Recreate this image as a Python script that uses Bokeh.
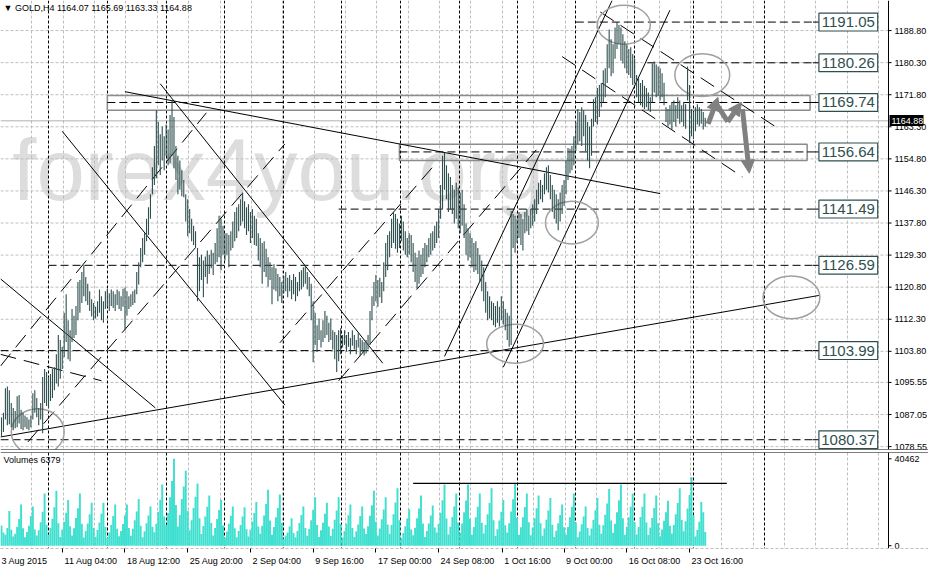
from bokeh.plotting import figure
from bokeh.models import (Range1d, FixedTicker, NumeralTickFormatter, Label, LinearAxis,
                          ColumnDataSource, Span, Arrow, NormalHead)
from bokeh.layouts import column
from bokeh.embed import file_html
from bokeh.resources import INLINE
from bokeh.core.properties import value

# ---------------- data ----------------
symbol = "GOLD,H4"
title_ohlc = [1164.07, 1165.69, 1163.33, 1164.88]
current_price = 1164.88
volume_caption = "Volumes 6379"
watermark = "forex4you.org"

highs = [
    1086.3, 1087.5, 1094.0, 1094.5, 1093.5, 1090.1, 1088.8, 1088.0, 1091.9, 1092.2,
    1088.3, 1087.5, 1086.8, 1086.3, 1085.7, 1086.8, 1092.7, 1093.5, 1091.4, 1088.8,
    1090.1, 1097.0, 1099.1, 1098.3, 1097.0, 1097.8, 1099.1, 1099.6, 1103.0, 1108.1,
    1106.8, 1105.0, 1114.0, 1118.9, 1112.0, 1109.4, 1115.0, 1113.2, 1115.8, 1122.2,
    1122.7, 1124.8, 1126.6, 1123.5, 1121.7, 1119.7, 1117.6, 1116.6, 1115.6, 1117.1,
    1120.2, 1118.4, 1117.1, 1119.7, 1120.4, 1119.2, 1120.2, 1119.7, 1118.9, 1120.2,
    1119.7, 1118.4, 1120.4, 1120.7, 1119.7, 1118.4, 1118.9, 1119.7, 1120.2, 1124.8,
    1127.4, 1131.2, 1133.8, 1135.1, 1138.9, 1142.0, 1145.4, 1152.6, 1158.2, 1167.7,
    1164.6, 1161.3, 1163.4, 1160.8, 1163.9, 1162.6, 1166.4, 1170.3, 1165.9, 1158.2,
    1155.6, 1154.4, 1151.8, 1149.2, 1145.4, 1144.1, 1141.5, 1138.9, 1137.1, 1135.6,
    1131.2, 1128.7, 1129.4, 1127.9, 1128.9, 1130.5, 1129.4, 1130.7, 1129.9, 1132.5,
    1136.4, 1139.7, 1138.9, 1137.1, 1135.1, 1135.1, 1134.6, 1135.6, 1138.2, 1140.7,
    1142.0, 1142.8, 1144.1, 1145.9, 1143.6, 1142.0, 1142.8, 1140.7, 1141.5, 1139.7,
    1138.9, 1135.1, 1133.8, 1132.5, 1133.0, 1131.0, 1128.7, 1127.4, 1126.1, 1126.9,
    1125.8, 1124.3, 1123.5, 1122.2, 1123.8, 1124.8, 1123.3, 1124.0, 1122.7, 1124.3,
    1123.5, 1122.2, 1124.8, 1125.3, 1126.1, 1126.6, 1124.8, 1123.5, 1121.7, 1117.1,
    1114.0, 1110.7, 1112.5, 1109.4, 1112.0, 1114.5, 1113.2, 1111.4, 1112.5, 1109.4,
    1108.9, 1108.1, 1109.4, 1109.9, 1108.1, 1109.4, 1108.1, 1108.9, 1107.3, 1109.4,
    1108.1, 1106.8, 1108.6, 1107.3, 1106.8, 1106.3, 1106.8, 1108.1, 1114.5, 1118.4,
    1122.2, 1124.0, 1122.7, 1123.3, 1122.2, 1127.4, 1132.5, 1134.6, 1135.6, 1138.9,
    1140.7, 1140.2, 1138.9, 1137.7, 1139.7, 1138.2, 1135.6, 1133.8, 1135.1, 1134.6,
    1132.5, 1129.9, 1128.7, 1130.5, 1129.4, 1131.2, 1132.5, 1132.0, 1133.8, 1135.1,
    1135.6, 1137.1, 1138.2, 1141.5, 1147.9, 1155.6, 1156.4, 1153.1, 1151.0, 1150.0,
    1147.9, 1146.6, 1148.5, 1147.2, 1145.9, 1146.6, 1142.8, 1137.7, 1136.4, 1135.1,
    1133.8, 1132.5, 1133.0, 1131.2, 1129.4, 1127.9, 1126.1, 1122.2, 1119.7, 1118.4,
    1117.1, 1116.6, 1115.8, 1117.1, 1115.6, 1118.4, 1117.1, 1115.0, 1114.0, 1113.2,
    1141.0, 1140.2, 1139.7, 1138.9, 1140.7, 1140.2, 1138.9, 1140.7, 1141.5, 1139.7,
    1141.5, 1142.8, 1144.1, 1146.6, 1148.5, 1149.2, 1147.9, 1151.0, 1152.6, 1153.1,
    1150.5, 1147.9, 1146.6, 1145.4, 1144.1, 1145.9, 1147.9, 1149.2, 1154.4, 1157.7,
    1157.5, 1158.2, 1160.8, 1164.6, 1168.0, 1167.2, 1168.5, 1167.7, 1166.4, 1164.6,
    1163.4, 1165.4, 1170.6, 1171.1, 1173.6, 1174.4, 1174.9, 1178.3, 1178.8, 1185.2,
    1189.1, 1186.5, 1185.2, 1189.6, 1191.1, 1190.3, 1189.6, 1187.8, 1186.0, 1185.2,
    1183.9, 1184.4, 1182.6, 1181.3, 1177.0, 1176.2, 1174.9, 1175.7, 1174.2, 1173.6,
    1172.4, 1171.1, 1180.1, 1180.6, 1179.8, 1179.3, 1178.8, 1177.5, 1175.0, 1168.5,
    1168.0, 1169.0, 1169.8, 1170.3, 1169.0, 1171.1, 1170.3, 1169.0, 1169.8, 1169.3,
    1179.3, 1174.4, 1168.0, 1167.2, 1168.5, 1169.3, 1168.5, 1168.0, 1167.2, 1165.69,
]

lows = [
    1081.1, 1082.4, 1085.7, 1084.2, 1084.5, 1083.7, 1082.9, 1083.4, 1083.7, 1084.7,
    1083.2, 1082.9, 1083.7, 1083.2, 1082.9, 1083.7, 1085.7, 1087.5, 1086.3, 1084.2,
    1085.7, 1082.1, 1090.1, 1089.3, 1088.8, 1090.6, 1091.4, 1093.5, 1095.3, 1094.5,
    1096.5, 1099.1, 1102.2, 1106.3, 1101.7, 1101.2, 1106.3, 1107.3, 1108.1, 1112.0,
    1114.0, 1116.6, 1118.4, 1117.1, 1116.1, 1114.5, 1113.0, 1112.0, 1112.5, 1113.0,
    1114.0, 1112.0, 1111.4, 1115.0, 1115.6, 1114.5, 1115.8, 1115.3, 1114.5, 1116.1,
    1115.0, 1114.5, 1115.6, 1109.4, 1113.2, 1115.0, 1115.6, 1116.1, 1116.6, 1118.9,
    1121.5, 1126.1, 1127.4, 1129.4, 1133.0, 1134.6, 1138.9, 1145.4, 1147.9, 1149.7,
    1153.1, 1150.5, 1154.4, 1151.8, 1155.6, 1153.1, 1153.6, 1155.6, 1152.3, 1149.2,
    1145.4, 1146.6, 1144.9, 1144.6, 1138.2, 1134.3, 1135.1, 1133.0, 1132.0, 1131.2,
    1117.1, 1119.7, 1122.7, 1118.1, 1123.5, 1121.7, 1124.3, 1125.8, 1124.0, 1126.9,
    1127.4, 1128.7, 1125.3, 1129.4, 1127.9, 1129.4, 1126.1, 1130.5, 1131.2, 1133.0,
    1133.8, 1135.6, 1137.1, 1138.2, 1136.4, 1134.6, 1135.6, 1132.5, 1133.8, 1132.0,
    1131.7, 1127.9, 1126.1, 1121.7, 1124.8, 1123.5, 1120.9, 1122.7, 1116.3, 1120.2,
    1119.7, 1117.1, 1118.4, 1116.6, 1119.2, 1119.7, 1118.1, 1119.7, 1117.6, 1118.9,
    1117.1, 1118.4, 1119.7, 1120.2, 1120.9, 1121.7, 1120.2, 1118.4, 1112.0, 1100.9,
    1105.5, 1103.7, 1106.8, 1104.8, 1106.3, 1107.3, 1108.1, 1106.3, 1106.8, 1104.3,
    1101.7, 1098.3, 1101.2, 1103.0, 1104.8, 1105.5, 1103.7, 1105.0, 1103.0, 1105.3,
    1104.3, 1103.0, 1104.8, 1102.5, 1103.7, 1102.7, 1103.2, 1104.3, 1105.5, 1112.0,
    1115.8, 1117.1, 1115.6, 1118.1, 1116.6, 1119.7, 1123.5, 1125.3, 1128.7, 1131.2,
    1132.5, 1131.0, 1129.9, 1131.2, 1133.0, 1130.5, 1129.4, 1128.7, 1129.4, 1127.4,
    1124.8, 1122.2, 1120.4, 1121.7, 1123.5, 1124.3, 1126.1, 1127.4, 1128.7, 1129.4,
    1130.5, 1131.2, 1132.5, 1133.8, 1138.9, 1141.5, 1146.6, 1144.1, 1140.7, 1141.5,
    1140.2, 1137.7, 1138.9, 1136.4, 1135.1, 1137.1, 1133.8, 1129.4, 1127.9, 1128.7,
    1126.1, 1124.8, 1125.3, 1124.3, 1122.2, 1119.7, 1117.1, 1114.0, 1112.0, 1112.5,
    1112.0, 1110.7, 1110.2, 1111.4, 1110.4, 1112.0, 1110.9, 1109.4, 1106.8, 1105.0,
    1105.5, 1131.2, 1129.9, 1132.5, 1133.8, 1132.0, 1130.5, 1135.1, 1135.6, 1134.6,
    1136.4, 1137.1, 1138.2, 1140.2, 1142.8, 1144.1, 1143.3, 1145.4, 1146.6, 1145.9,
    1144.1, 1140.7, 1138.9, 1137.7, 1135.9, 1138.2, 1140.2, 1142.3, 1145.4, 1149.2,
    1151.0, 1151.8, 1153.1, 1156.9, 1158.7, 1159.5, 1158.2, 1160.8, 1156.9, 1154.4,
    1152.3, 1155.6, 1163.4, 1164.6, 1163.9, 1165.9, 1168.5, 1169.8, 1171.1, 1174.9,
    1178.8, 1176.7, 1177.5, 1181.3, 1183.9, 1185.2, 1180.8, 1180.1, 1178.8, 1177.5,
    1177.0, 1176.2, 1174.4, 1174.9, 1171.1, 1169.8, 1169.0, 1168.5, 1168.0, 1168.5,
    1167.7, 1167.2, 1169.8, 1172.4, 1171.1, 1171.6, 1170.3, 1171.1, 1169.0, 1164.6,
    1163.4, 1163.9, 1162.6, 1164.6, 1163.4, 1165.4, 1164.1, 1164.6, 1163.4, 1162.8,
    1170.3, 1159.0, 1160.8, 1160.0, 1162.1, 1163.9, 1163.4, 1164.1, 1162.6, 1163.33,
]

volumes = [
    9400, 6200, 5100, 8300, 16200, 7400,
    4300, 5600, 8800, 12400, 19200, 8100,
    3900, 6400, 9300, 13800, 18300, 7600,
    4700, 7200, 10900, 15800, 24300, 9800,
    5200, 8400, 12600, 17900, 25600, 10400,
    4100, 7600, 11200, 15300, 21300, 9100,
    4800, 8100, 12900, 17400, 24300, 10200,
    3800, 6900, 10300, 14600, 20000, 8300,
    4200, 7300, 10800, 14900, 20000, 8700,
    3600, 6100, 9700, 13800, 19200, 7900,
    4400, 6800, 10100, 14200, 19200, 8200,
    4600, 7900, 11800, 15900, 21700, 9300,
    3900, 6700, 10400, 14100, 18300, 8800,
    6300, 10200, 15800, 21400, 28500, 13600,
    9800, 15200, 22600, 30100, 40462, 18900,
    8900, 14300, 21800, 27600, 34900, 16200,
    7200, 11900, 17600, 22800, 29000, 12800,
    5400, 9200, 13600, 18100, 23400, 10600,
    4800, 8300, 12400, 16600, 21300, 9400,
    3700, 6600, 10200, 13900, 18300, 8100,
    3900, 6800, 9600, 13600, 17900, 7700,
    4300, 7400, 11300, 15200, 20400, 9000,
    5600, 9300, 14100, 19400, 26000, 11700,
    5100, 8700, 13300, 17600, 23900, 10600,
    3200, 4800, 6100, 8900, 12800, 5900,
    3900, 6900, 10600, 14300, 18300, 8200,
    4600, 7800, 11900, 16700, 22600, 9700,
    4100, 7200, 10700, 14900, 20000, 8900,
    4500, 7900, 12100, 16400, 22600, 10100,
    3800, 6900, 10200, 14200, 19200, 8300,
    4000, 6700, 9900, 13800, 18300, 8000,
    5400, 9100, 13900, 18800, 25600, 11200,
    4700, 8000, 12300, 16900, 22600, 9900,
    5600, 9700, 14600, 20100, 26800, 11800,
    3500, 5900, 9100, 12700, 17000, 7600,
    4900, 8400, 12800, 17300, 23400, 10300,
    4100, 6900, 10300, 14100, 18700, 8500,
    6100, 10100, 15400, 21200, 28500, 12700,
    5200, 8800, 13400, 18200, 24300, 10800,
    6000, 10300, 15600, 21100, 28500, 12600,
    5100, 8700, 13200, 18100, 24300, 10700,
    5700, 9600, 14700, 19900, 26800, 11900,
    4500, 7700, 11700, 15800, 21300, 9500,
    6200, 10400, 15900, 21600, 29000, 12900,
    5100, 8600, 13300, 18000, 24300, 10900,
    4900, 8500, 12800, 17400, 23400, 10400,
    4600, 8000, 12100, 16400, 22200, 9800,
    4000, 7000, 10400, 14300, 19200, 8600,
    5100, 8700, 13300, 18100, 24300, 10800,
    3900, 6600, 10000, 13600, 18300, 8200,
    4700, 8000, 12000, 16500, 22200, 9800,
    5600, 9500, 14400, 19600, 26400, 11700,
    6000, 10200, 15600, 21200, 28500, 12800,
    5100, 8800, 13300, 18100, 24300, 10900,
    5200, 8700, 13400, 18100, 24300, 10800,
    5000, 8500, 12900, 17500, 23400, 10500,
    4400, 7600, 11600, 15600, 20900, 9300,
    5700, 9700, 14600, 19900, 26800, 12000,
    6700, 11400, 17300, 23600, 32000, 14200,
    4300, 7300, 11200, 20400, 15600, 6379,
]
volume_max_label = 40462
volume_line_level = 29000
volume_line_start = 210
volume_line_end = 370

price_ticks = [1188.80, 1180.30, 1171.80, 1163.30, 1154.80, 1146.30, 1137.80,
               1129.30, 1120.80, 1112.30, 1103.80, 1095.55, 1087.05, 1078.55]

time_tick_bars = [-1, 31, 63, 95, 127, 159, 191, 223, 255.5, 287, 319, 351]
time_labels = ["3 Aug 2015", "11 Aug 04:00", "18 Aug 12:00", "25 Aug 20:00",
               "2 Sep 04:00", "9 Sep 16:00", "17 Sep 00:00", "24 Sep 08:00",
               "1 Oct 16:00", "9 Oct 00:00", "16 Oct 08:00", "23 Oct 16:00"]
week_separators = [24, 54, 84, 114, 144, 173.5, 203.5, 233.5, 263, 293, 323, 353, 389]

level_prices = [1191.05, 1180.26, 1169.74, 1156.64, 1141.49, 1126.59, 1103.99, 1080.37]
level_start = [293, 329.5, 54, 203, 172, 24, -0.5, -0.5]
level_end = [414, 414, 412.5, 411, 414, 414, 414, 414]

zone_left = [54, 203]
zone_right = [412.5, 411]
zone_bottom = [1167.7, 1154.4]
zone_top = [1171.6, 1158.7]

solid_x0 = [-0.5, 63, 81, 31, -0.5, 226, 256]
solid_y0 = [1081.1, 1172.6, 1174.7, 1162.1, 1123.0, 1102.45, 1099.6]
solid_x1 = [417, 336, 194.5, 144.5, 78.5, 311.5, 341]
solid_y1 = [1118.6, 1145.6, 1100.65, 1089.6, 1088.8, 1196.77, 1194.2]

dashed_x0 = [-0.5, -0.5, 13.5, 142, 172, 305.5, 286]
dashed_y0 = [1103.0, 1099.9, 1079.8, 1106.05, 1096.0, 1193.7, 1181.9]
dashed_x1 = [51, 104.5, 144.5, 222, 274.5, 397, 378]
dashed_y1 = [1096.0, 1167.0, 1158.7, 1153.85, 1158.2, 1162.6, 1150.0]

ellipse_x = [18.5, 317.5, 357.5, 291, 262, 403]
ellipse_y = [1082.4, 1190.35, 1177.0, 1137.9, 1105.8, 1118.1]
ellipse_w = [27, 27, 28, 27, 29, 29]
ellipse_h = [12.3, 10.3, 11.3, 11.3, 10.3, 11.3]

arrow_x0 = [360.5, 370.5, 378.0]
arrow_y0 = [1164.1, 1164.65, 1168.0]
arrow_x1 = [365.5, 377.5, 381.5]
arrow_y1 = [1171.1, 1169.8, 1151.0]
path_x = [364.5, 370.5]
path_y = [1169.5, 1164.65]

# ---------------- layout / style constants ----------------
W = 928
RIGHT = 40
X_START, X_END = -0.5, 452.5
P_LOW, P_HIGH = 1077.78, 1196.77
V_LOW, V_TOP = -1300, 43400
BOX_L, BOX_R, BOX_H = 417, 447, 2.36
WM_X, WM_Y = 5.5, 1151.9
BAR_COLOR = "#2F4F4F"
GRID = "#BEBEBE"
FONT = "Liberation Sans"
SMALL = "9px"

bars = list(range(len(highs)))
grid_bars = [15.5 + 16 * k for k in range(28)]
px_per_bar = (W - RIGHT) / (X_END - X_START)
# both frames span the full width; the right strip holds the scales
X_END_FULL = X_END + RIGHT / px_per_bar
SCALE_AT = X_END + 38 / px_per_bar
TICK_END = X_END + 3 / px_per_bar

# approximate glyph widths (em) of Liberation Sans, to left-align time labels like MT4
CHAR_W = {" ": 0.278, ":": 0.278, "A": 0.667, "S": 0.667, "O": 0.778,
          "u": 0.556, "g": 0.556, "e": 0.556, "p": 0.556, "c": 0.5, "t": 0.278}


def text_width(s, size=9.0):
    return sum(CHAR_W.get(ch, 0.556) for ch in s) * size


label_centers = [round(t + (2 + text_width(s) / 2) / px_per_bar, 3)
                 for t, s in zip(time_tick_bars, time_labels)]


def scale_axis(ticks, fmt=None, loc=SCALE_AT, **kw):
    ax = LinearAxis(fixed_location=loc, ticker=FixedTicker(ticks=ticks),
                    axis_line_color=None, major_tick_out=0, major_tick_in=0,
                    minor_tick_out=0, minor_tick_in=0, major_label_standoff=-32,
                    major_label_text_font=FONT, major_label_text_font_size=SMALL,
                    major_label_text_color="black")
    if fmt is not None:
        ax.formatter = fmt
    for k, val in kw.items():
        setattr(ax, k, val)
    return ax


# ---------------- price panel ----------------
p = figure(width=W, height=451, x_range=Range1d(X_START, X_END_FULL),
           y_range=Range1d(P_LOW, P_HIGH), x_axis_location=None,
           y_axis_location=None, output_backend="svg", toolbar_location=None,
           min_border_left=0, min_border_top=0, min_border_bottom=2,
           min_border_right=0)
p.grid.visible = False
p.outline_line_color = None
p.background_fill_color = "white"
p.border_fill_color = "white"

p.add_layout(scale_axis(price_ticks, NumeralTickFormatter(format="0.00")), "right")
# current price marker on the price scale (black box, white text)
p.add_layout(scale_axis([current_price], NumeralTickFormatter(format="0.00"),
                        loc=X_END + 35 / px_per_bar, major_tick_in=34,
                        major_tick_line_width=11, major_tick_line_color="black",
                        major_label_text_color="white"), "right")

p.text(x=[WM_X], y=[WM_Y], text=[watermark], text_font=value(FONT),
       text_font_size=value("87px"), text_color="#DDDDDD",
       text_baseline="alphabetic", text_align="left")

n_ticks = len(price_ticks)
p.segment(x0=[X_START] * n_ticks, x1=[X_END] * n_ticks, y0=price_ticks, y1=price_ticks,
          line_color=GRID, line_dash="3 2", line_width=1)
p.vspan(x=grid_bars, line_color=GRID, line_dash="3 2", line_width=1)
p.vspan(x=week_separators, line_color="black", line_dash="3 2", line_width=1)
p.segment(x0=[X_START], x1=[X_END], y0=[current_price], y1=[current_price],
          line_color="#B0B0B0", line_width=1)

p.quad(left=zone_left, right=zone_right, bottom=zone_bottom, top=zone_top,
       fill_color=None, line_color="#8C8C8C", line_width=1.5)
p.segment(x0=level_start, x1=level_end, y0=level_prices, y1=level_prices,
          line_color="black", line_dash="8 4", line_width=1)
p.segment(x0=level_end, x1=[BOX_L] * len(level_prices), y0=level_prices,
          y1=level_prices, line_color="black", line_width=1)

p.segment(x0=solid_x0, y0=solid_y0, x1=solid_x1, y1=solid_y1,
          line_color="black", line_width=1)
p.segment(x0=dashed_x0, y0=dashed_y0, x1=dashed_x1, y1=dashed_y1,
          line_color="black", line_width=1, line_dash="16 8")

p.ellipse(x=ellipse_x, y=ellipse_y, width=ellipse_w, height=ellipse_h,
          fill_color=None, line_color="#A0A0A0", line_width=1.5)

p.segment(x0=bars, x1=bars, y0=lows, y1=highs, line_color=BAR_COLOR, line_width=1.1)

p.quad(left=[BOX_L] * len(level_prices), right=[BOX_R] * len(level_prices),
       bottom=[v - BOX_H for v in level_prices], top=[v + BOX_H for v in level_prices],
       fill_color="white", line_color=BAR_COLOR, line_width=1.2)
p.text(x=[(BOX_L + BOX_R) / 2] * len(level_prices), y=level_prices,
       text=[f"{v:.2f}" for v in level_prices], text_align="center",
       text_baseline="middle", text_font=value(FONT), text_font_size=value("15px"),
       text_color=BAR_COLOR)

p.line(path_x, path_y, line_color="#808080", line_width=5)
arrow_src = ColumnDataSource(dict(x0=arrow_x0, y0=arrow_y0, x1=arrow_x1, y1=arrow_y1))
p.add_layout(Arrow(end=NormalHead(size=13, fill_color="#808080", line_color="#808080"),
                   x_start="x0", y_start="y0", x_end="x1", y_end="y1",
                   source=arrow_src, line_color="#808080", line_width=5))

# price-scale rule and its tick marks
p.vspan(x=[X_END], line_color="black", line_width=1)
p.segment(x0=[X_END] * n_ticks, x1=[TICK_END] * n_ticks,
          y0=price_ticks, y1=price_ticks, line_color="black", line_width=1)

p.add_layout(Span(location=P_LOW, dimension="width", line_color="black", line_width=1))

title = "\u25BC " + symbol + "  " + " ".join(f"{v:.2f}" for v in title_ohlc)
p.add_layout(Label(x=X_START, y=P_HIGH, x_offset=3, y_offset=-2, text=title,
                   text_baseline="top", text_align="left", text_font=FONT,
                   text_font_size=SMALL, text_color="black"))

# ---------------- volume panel ----------------
v = figure(width=W, height=117, x_range=Range1d(X_START, X_END_FULL),
           y_range=Range1d(V_LOW, V_TOP), y_axis_location=None,
           x_axis_location="below", output_backend="svg",
           toolbar_location=None, min_border_left=0, min_border_top=1,
           min_border_bottom=18, min_border_right=0)
v.grid.visible = False
v.outline_line_color = None
v.background_fill_color = "white"
v.border_fill_color = "white"

vol_ticks = [0, volume_max_label]
v.add_layout(scale_axis(vol_ticks), "right")

v.vspan(x=grid_bars, line_color=GRID, line_dash="3 2", line_width=1)
v.vspan(x=week_separators, line_color="black", line_dash="3 2", line_width=1)
v.vbar(x=bars, top=volumes, width=1.0, fill_color="#40E0D0", line_color=None)
v.segment(x0=[volume_line_start], x1=[volume_line_end], y0=[volume_line_level],
          y1=[volume_line_level], line_color="black", line_width=1.2)
v.vspan(x=[X_END], line_color="black", line_width=1)
v.segment(x0=[X_END] * 2, x1=[TICK_END] * 2, y0=vol_ticks, y1=vol_ticks,
          line_color="black", line_width=1)

xa = v.xaxis[0]
xa.ticker = FixedTicker(ticks=label_centers, minor_ticks=time_tick_bars)
xa.major_label_overrides = dict(zip(label_centers, time_labels))
xa.axis_line_color = GRID
xa.axis_line_dash = "3 2"
xa.major_tick_out = 0
xa.major_tick_in = 0
xa.minor_tick_out = 4
xa.minor_tick_in = 0
xa.minor_tick_line_color = "black"
xa.major_label_standoff = 3
xa.major_label_text_font = FONT
xa.major_label_text_font_size = SMALL
xa.major_label_text_color = "black"

v.add_layout(Span(location=V_TOP, dimension="width", line_color="black", line_width=1))
v.add_layout(Label(x=X_START, y=V_TOP, x_offset=3, y_offset=-2, text=volume_caption,
                   text_baseline="top", text_align="left", text_font=FONT,
                   text_font_size=SMALL, text_color="black"))

layout = column(p, v, spacing=0)
open("out.html", "w").write(file_html(layout, INLINE))
